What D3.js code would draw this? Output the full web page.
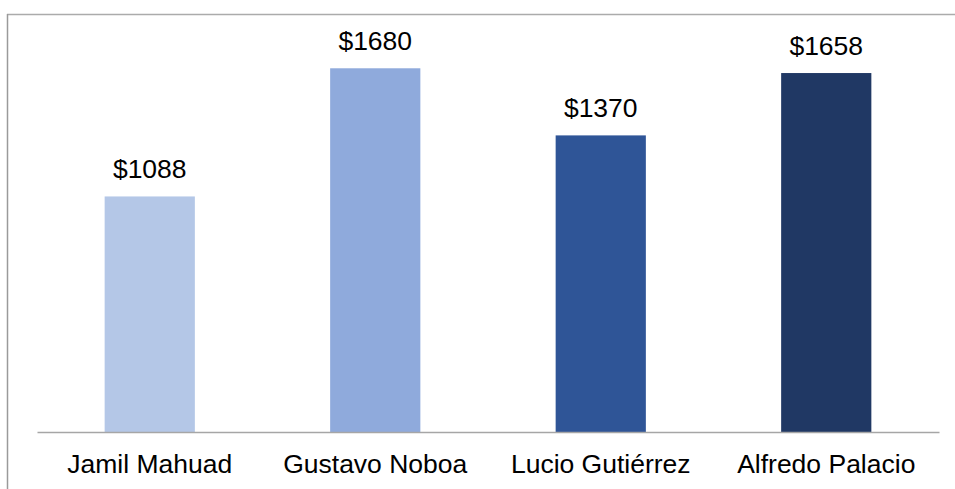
<!DOCTYPE html>
<html>
<head>
<meta charset="utf-8">
<script src="https://cdn.jsdelivr.net/npm/d3@7"></script>
<style>
  body { margin: 0; background: #fff; }
  svg text { font-family: "Liberation Sans", Arial, sans-serif; fill: #000; }
</style>
</head>
<body>
<div id="chart"></div>
<script>
// datos del gráfico
const categories = ['Jamil Mahuad', 'Gustavo Noboa', 'Lucio Gutiérrez', 'Alfredo Palacio'];
const values = [1088, 1680, 1370, 1658];
const barColors = ['#b4c7e7', '#8faadc', '#2f5597', '#203864'];

const width = 955, height = 489;
const svg = d3.select('#chart').append('svg')
  .attr('width', width)
  .attr('height', height);

// marco (solo arriba e izquierda visibles)
svg.append('line')
  .attr('x1', 7).attr('x2', width).attr('y1', 14.5).attr('y2', 14.5)
  .attr('stroke', '#ababab').attr('stroke-width', 1.5);
svg.append('line')
  .attr('x1', 7.5).attr('x2', 7.5).attr('y1', 14).attr('y2', height)
  .attr('stroke', '#9a9a9a').attr('stroke-width', 1.5);

const x = d3.scaleBand()
  .domain(categories)
  .range([37, 939])
  .paddingInner(0.6)
  .paddingOuter(0.3);

const y = d3.scaleLinear()
  .domain([0, 2000])
  .range([432, -1]);

// barras
svg.append('g')
  .selectAll('rect')
  .data(values)
  .join('rect')
  .attr('x', (d, i) => x(categories[i]))
  .attr('y', d => y(d))
  .attr('width', x.bandwidth())
  .attr('height', d => y(0) - y(d))
  .attr('fill', (d, i) => barColors[i]);

// etiquetas de valor
svg.append('g')
  .selectAll('text')
  .data(values)
  .join('text')
  .attr('x', (d, i) => x(categories[i]) + x.bandwidth() / 2)
  .attr('y', d => y(d) - 18)
  .attr('text-anchor', 'middle')
  .style('font-size', '26.5px')
  .text(d => '$' + d);

// eje x
const xAxis = svg.append('g')
  .attr('transform', `translate(0,${y(0)})`)
  .call(d3.axisBottom(x).tickSize(0).tickPadding(22));
xAxis.select('.domain').attr('stroke', '#a6a6a6').attr('stroke-width', 1.5);
xAxis.selectAll('text').style('font-size', '26.5px');
</script>
</body>
</html>
